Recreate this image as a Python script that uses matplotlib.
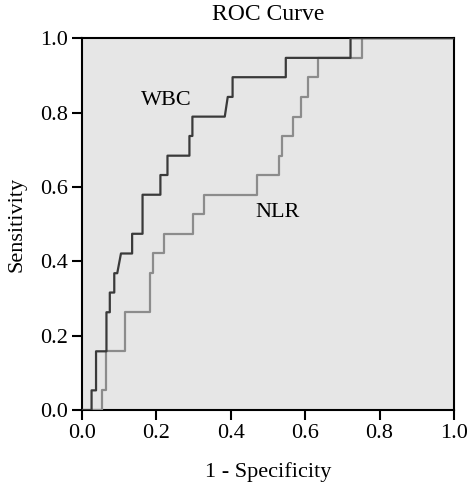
import matplotlib
matplotlib.use("Agg")
import matplotlib.pyplot as plt

plt.rcParams['font.family'] = ['Liberation Serif', 'DejaVu Serif']

# step points of the two ROC curves (1 - specificity, sensitivity)
wbc_fpr = [0.0, 0.026, 0.026, 0.038, 0.038, 0.066, 0.066, 0.075, 0.075, 0.087, 0.087, 0.095,
           0.105, 0.135, 0.135, 0.163, 0.163, 0.211, 0.211, 0.230, 0.230, 0.289, 0.289,
           0.297, 0.297, 0.384, 0.392, 0.405, 0.405, 0.548, 0.548, 0.722, 0.722, 1.0]
wbc_tpr = [0.0, 0.0, 0.053, 0.053, 0.158, 0.158, 0.263, 0.263, 0.316, 0.316, 0.368, 0.368,
           0.421, 0.421, 0.474, 0.474, 0.579, 0.579, 0.632, 0.632, 0.684, 0.684, 0.737,
           0.737, 0.789, 0.789, 0.842, 0.842, 0.895, 0.895, 0.947, 0.947, 1.0, 1.0]

nlr_fpr = [0.0, 0.055, 0.055, 0.066, 0.066, 0.116, 0.116, 0.183, 0.183, 0.192, 0.192, 0.220,
           0.220, 0.299, 0.299, 0.328, 0.328, 0.470, 0.470, 0.530, 0.530, 0.539, 0.539,
           0.568, 0.568, 0.588, 0.588, 0.608, 0.608, 0.635, 0.635, 0.752, 0.752, 1.0]
nlr_tpr = [0.0, 0.0, 0.053, 0.053, 0.158, 0.158, 0.263, 0.263, 0.368, 0.368, 0.421, 0.421,
           0.474, 0.474, 0.526, 0.526, 0.579, 0.579, 0.632, 0.632, 0.684, 0.684, 0.737,
           0.737, 0.789, 0.789, 0.842, 0.842, 0.895, 0.895, 0.947, 0.947, 1.0, 1.0]

ticks = [0.0, 0.2, 0.4, 0.6, 0.8, 1.0]

fig = plt.figure(figsize=(4.68, 4.83), dpi=100)
ax = fig.add_axes([0.175, 0.151, 0.795, 0.770])
ax.set_facecolor('#e6e6e6')

ax.plot(nlr_fpr, nlr_tpr, color='#8c8c8c', lw=1.6, zorder=3)
ax.plot(wbc_fpr, wbc_tpr, color='#3a3a3a', lw=1.6, zorder=4)

ax.text(0.228, 0.833, 'WBC', fontsize=16, ha='center', va='center')
ax.text(0.527, 0.532, 'NLR', fontsize=16, ha='center', va='center')

ax.set_xlim(0, 1)
ax.set_ylim(0, 1)
ax.set_xticks(ticks)
ax.set_yticks(ticks)
ax.set_xticklabels(['%.1f' % t for t in ticks])
ax.set_yticklabels(['%.1f' % t for t in ticks])
ax.tick_params(direction='out', length=7, width=1.5, labelsize=16, pad=3)
for s in ax.spines.values():
    s.set_linewidth(1.5)

ax.set_title('ROC Curve', fontsize=17, pad=13)
ax.set_xlabel('1 - Specificity', fontsize=16, labelpad=14)
ax.set_ylabel('Sensitivity', fontsize=16, labelpad=10)

fig.savefig('out.png', dpi=100)
